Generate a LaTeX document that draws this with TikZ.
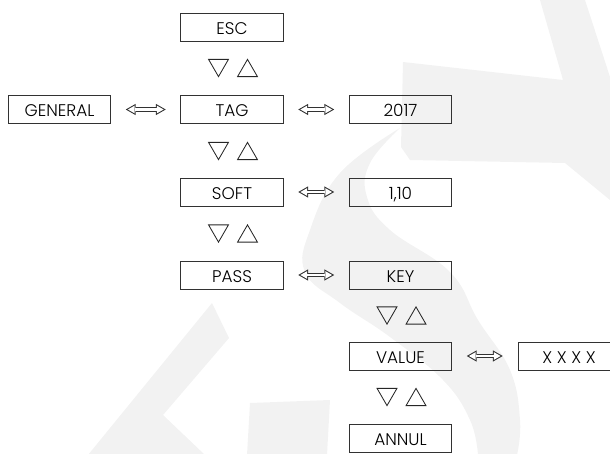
\documentclass[tikz,border=0pt]{standalone}
\usepackage{fontspec}
\setmainfont{Poppins}[UprightFont=* Light]
\usepackage{tikz}
\usetikzlibrary{shapes.geometric, arrows.meta, positioning}
\definecolor{wmgray}{RGB}{242,242,242}
\definecolor{lcdline}{RGB}{50,50,50}

\begin{document}
\begin{tikzpicture}[x=0.025cm, y=-0.025cm, font=\fontsize{12}{14}\selectfont,
    menu/.style={draw=lcdline, line width=0.7pt, rectangle, minimum width=2.55cm, minimum height=0.7cm,
        inner sep=0pt, text height=10.2pt, text depth=0pt, text=black},
    keyup/.style={draw=black!85, line width=0.6pt, regular polygon, regular polygon sides=3,
        minimum size=0.575cm, inner sep=0pt},
    keydown/.style={keyup, shape border rotate=180},
    swapout/.style={lcdline, line width=3pt,
        {Triangle[length=7pt, width=8pt, line width=0pt]}-{Triangle[length=7pt, width=8pt, line width=0pt]},
        shorten <=10.5pt, shorten >=10.5pt},
    swapin/.style={white, line width=1.5pt,
        {Triangle[length=4.74pt, width=5.41pt, line width=0pt]}-{Triangle[length=4.74pt, width=5.41pt, line width=0pt]},
        shorten <=12.01pt, shorten >=12.01pt}]
    \useasboundingbox (0,0) rectangle (610,453);
    % watermark
    \fill[wmgray] (403,62) -- (563,80) -- (540,0) -- (585,0) -- (610,77) -- (610,200) -- (565,163)
        -- (410,160) -- (401,147) -- cycle;
    \fill[wmgray] plot[smooth, tension=0.7] coordinates {(400,128) (340,173) (310,230) (305,272) (340,303)
        (390,337) (443,380) (470,420) (478,455)}
        -- plot[smooth, tension=0.7] coordinates {(517,455) (520,420) (510,370) (478,320) (450,272)
        (390,230) (367,197) (370,163) (400,128)} -- cycle;
    \fill[wmgray] (250,403) -- (330,400) -- (327,455) -- (247,455) -- cycle;
    \fill[wmgray] (212,303) -- (229,338) -- (163,415) -- (205,455) -- (88,455) -- cycle;

    \foreach \n/\t/\y in {esc/ESC/27, tag/TAG/109.5, soft/SOFT/192, pass/PASS/275} {
        \node[menu] (\n) at (232,\y) {\t};
    }
    \foreach \n/\t/\y in {year/2017/109.5, ver/{1,10}/192, key/KEY/275, value/VALUE/356, annul/ANNUL/438.5} {
        \node[menu] (\n) at (400.5,\y) {\t};
    }
    \node[menu] (general) at (59.5,109.5) {GENERAL};
    \node[menu] (code) at (569,356) {X X X X};

    \foreach \x/\y [count=\i] in {232/68, 232/151, 232/233.5, 400.5/315.5, 400.5/397} {
        \node[keydown] (down\i) at (\x-13.5,\y-2.9) {};
        \node[keyup] (up\i) at (\x+15.5,\y+2.9) {};
    }

    \foreach \a/\b in {general/tag, tag/year, soft/ver, pass/key, value/code} {
        \draw[swapout] (\a) -- (\b);
        \draw[swapin] (\a) -- (\b);
    }
\end{tikzpicture}
\end{document}
